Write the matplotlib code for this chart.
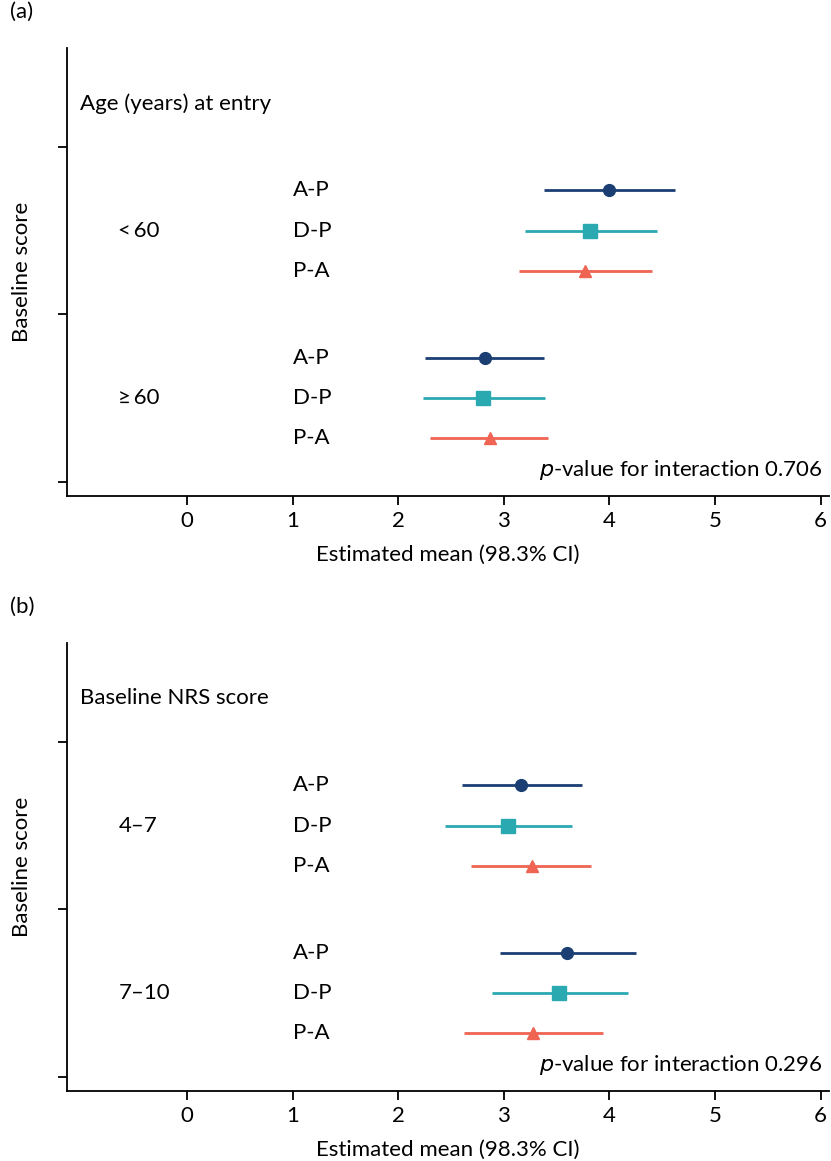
import matplotlib.pyplot as plt

plt.rcParams['font.family'] = ['Lato', 'DejaVu Sans']

comparisons = ['A-P', 'D-P', 'P-A']
colors = ['#1b3f73', '#2aa9b1', '#ef6453']
markers = ['o', 's', '^']
msizes = [8.5, 9.5, 9]

# panel (a): age at entry
age_groups = ['<\u200960', '\u2265\u200960']
age_mean = [[4.00, 3.82, 3.77], [2.82, 2.80, 2.87]]
age_lo = [[3.38, 3.20, 3.14], [2.25, 2.24, 2.30]]
age_hi = [[4.62, 4.45, 4.40], [3.38, 3.39, 3.42]]

# panel (b): baseline NRS score
nrs_groups = ['4\u20137', '7\u201310']
nrs_mean = [[3.16, 3.04, 3.27], [3.60, 3.52, 3.28]]
nrs_lo = [[2.60, 2.44, 2.69], [2.96, 2.89, 2.62]]
nrs_hi = [[3.74, 3.65, 3.83], [4.25, 4.18, 3.94]]

FS = 16

fig = plt.figure(figsize=(8.31, 11.61), dpi=100)
ax_a = fig.add_axes([0.0806, 0.5728, 0.917, 0.3859])
ax_b = fig.add_axes([0.0806, 0.0603, 0.917, 0.3859])


def draw_panel(ax, header, groups, mean, lo, hi, pval, letter):
    centres = [1.5, 0.5]
    for g, yc in enumerate(centres):
        ax.text(-0.65, yc, groups[g], fontsize=FS, va='center', ha='left')
        for i, comp in enumerate(comparisons):
            y = yc + 0.24 * (1 - i)
            ax.text(1.0, y, comp, fontsize=FS, va='center', ha='left')
            ax.plot([lo[g][i], hi[g][i]], [y, y], color=colors[i], lw=2,
                    solid_capstyle='butt')
            ax.plot(mean[g][i], y, marker=markers[i], color=colors[i],
                    ms=msizes[i], ls='none')
    ax.text(-1.01, 2.26, header, fontsize=FS, va='center', ha='left')
    ax.text(6.02, 0.07, '$\\it{p}$-value for interaction ' + pval,
            fontsize=FS, va='center', ha='right')
    ax.set_xlim(-1.136, 6.08)
    ax.set_ylim(-0.084, 2.59)
    ax.set_xticks(range(0, 7))
    ax.set_yticks([0, 1, 2])
    ax.set_yticklabels([])
    ax.tick_params(axis='x', labelsize=FS, length=6.5, width=1.3, pad=4)
    ax.tick_params(axis='y', length=6.5, width=1.3)
    for side in ['top', 'right']:
        ax.spines[side].set_visible(False)
    for side in ['left', 'bottom']:
        ax.spines[side].set_linewidth(1.3)
    ax.set_xlabel('Estimated mean (98.3% CI)', fontsize=FS, labelpad=10)
    ax.set_ylabel('Baseline score', fontsize=FS)
    ax.yaxis.set_label_coords(-0.046, 0.5)
    ax.text(-0.075, 1.08, letter, transform=ax.transAxes, fontsize=FS,
            va='center', ha='left')


draw_panel(ax_a, 'Age (years) at entry', age_groups, age_mean, age_lo,
           age_hi, '0.706', '(a)')
draw_panel(ax_b, 'Baseline NRS score', nrs_groups, nrs_mean, nrs_lo,
           nrs_hi, '0.296', '(b)')

fig.savefig('out.png', dpi=100)
